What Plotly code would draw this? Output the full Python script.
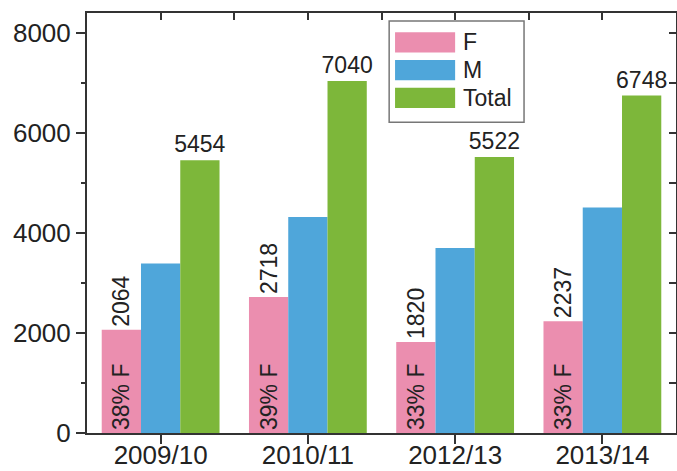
import plotly.graph_objects as go

years = ["2009/10", "2010/11", "2012/13", "2013/14"]
female = [2064, 2718, 1820, 2237]
male = [3390, 4322, 3702, 4511]
total = [5454, 7040, 5522, 6748]
female_pct = ["38% F", "39% F", "33% F", "33% F"]

series = ["F", "M", "Total"]
colors = ["#EB8EAF", "#4FA6DA", "#7DB73A"]

FONT = "Liberation Sans, Arial, sans-serif"
TXT = "#222222"
AX = "#333333"

fig = go.Figure()

# female bars, count on top (rotated)
fig.add_trace(go.Bar(x=years, y=female, name="F", marker_color=colors[0],
                     marker_line_width=0, offsetgroup="F",
                     text=[str(v) for v in female], textposition="outside",
                     textangle=-90, constraintext="none", cliponaxis=False,
                     textfont=dict(size=23, color=TXT, family=FONT)))
# same bars again, only to carry the "% F" label inside at the bottom
fig.add_trace(go.Bar(x=years, y=female, marker_color="rgba(0,0,0,0)",
                     marker_line_width=0, offsetgroup="F", showlegend=False,
                     text=female_pct, textposition="inside", insidetextanchor="start",
                     textangle=-90, constraintext="none",
                     insidetextfont=dict(size=23, color=TXT, family=FONT),
                     hoverinfo="skip"))
fig.add_trace(go.Bar(x=years, y=male, name="M", marker_color=colors[1],
                     marker_line_width=0, offsetgroup="M"))
fig.add_trace(go.Bar(x=years, y=total, name="Total", marker_color=colors[2],
                     marker_line_width=0, offsetgroup="T",
                     text=[str(v) for v in total], textposition="outside",
                     textangle=0, constraintext="none", cliponaxis=False,
                     textfont=dict(size=23, color=TXT, family=FONT)))
# empty trace so the top/right frame axes get drawn
fig.add_trace(go.Scatter(x=[None], y=[None], xaxis="x2", yaxis="y2",
                         mode="markers", showlegend=False, hoverinfo="skip"))

# hand drawn legend with wide swatches
lx0, lx1, ly0, ly1 = 0.513, 0.742, 0.740, 0.981
fig.add_shape(type="rect", xref="paper", yref="paper", x0=lx0, x1=lx1, y0=ly0, y1=ly1,
              line=dict(color="#777777", width=1.5), fillcolor="white", layer="above")
for i, (nm, col) in enumerate(zip(series, colors)):
    yc = 0.930 - i * 0.066
    fig.add_shape(type="rect", xref="paper", yref="paper", x0=0.523, x1=0.625,
                  y0=yc - 0.024, y1=yc + 0.024, fillcolor=col, line_width=0, layer="above")
    fig.add_annotation(xref="paper", yref="paper", x=0.635, y=yc, text=nm,
                       showarrow=False, xanchor="left", yanchor="middle",
                       font=dict(size=23, color=TXT, family=FONT))

fig.update_layout(
    width=677, height=471, autosize=False,
    margin=dict(l=87, r=1, t=13, b=38, autoexpand=False),
    paper_bgcolor="white", plot_bgcolor="white",
    barmode="group", bargap=0.2, bargroupgap=0,
    showlegend=False,
    font=dict(family=FONT, size=25, color=TXT),
    xaxis=dict(showline=True, linecolor=AX, linewidth=2, ticks="outside",
               ticklen=9, tickwidth=2, tickcolor=AX, showgrid=False,
               tickfont=dict(size=26), range=[-0.5, 3.5], automargin=False,
               ticklabelstandoff=-11),
    yaxis=dict(range=[0, 8400], tickvals=[0, 2000, 4000, 6000, 8000],
               showline=True, linecolor=AX, linewidth=2, ticks="outside",
               ticklen=9, tickwidth=2, tickcolor=AX, showgrid=False, zeroline=False,
               tickfont=dict(size=26), automargin=False,
               minor=dict(dtick=1000, ticks="outside", ticklen=4, tickcolor=AX, tickwidth=2)),
    xaxis2=dict(overlaying="x", side="top", type="linear", range=[-0.5, 3.5],
                dtick=0.5, tick0=0,
                showline=True, linecolor=AX, linewidth=2, ticks="inside", ticklen=7,
                tickwidth=2, tickcolor=AX, showticklabels=False, showgrid=False,
                zeroline=False, automargin=False),
    yaxis2=dict(overlaying="y", side="right", range=[0, 8400], dtick=1000,
                showline=True, linecolor=AX, linewidth=2, ticks="inside", ticklen=7,
                tickwidth=2, tickcolor=AX, showticklabels=False, showgrid=False,
                zeroline=False, automargin=False),
)

# drop the browser's default body margin so the figure sits at the page corner
fig.write_html("out.html", config={"displayModeBar": False},
               post_script="document.body.style.margin='0';")
